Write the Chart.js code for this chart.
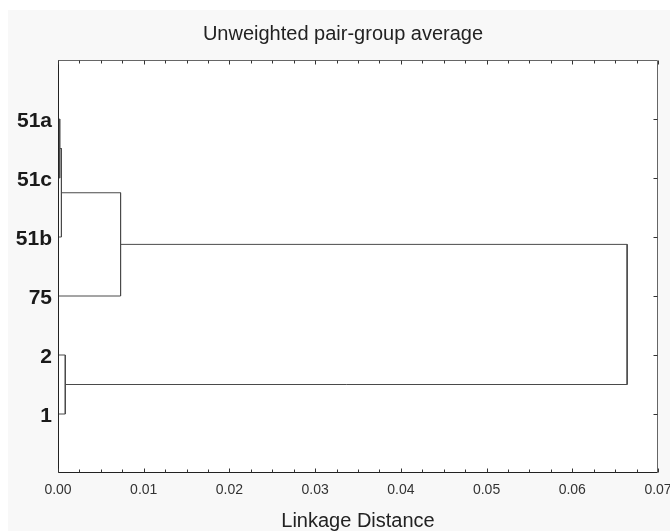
<!DOCTYPE html>
<html>
<head>
<meta charset="utf-8">
<script src="https://cdn.jsdelivr.net/npm/chart.js@4.4.0/dist/chart.umd.min.js"></script>
<style>
  html, body { margin: 0; padding: 0; background: #fff; }
  #wrap { width: 670px; height: 531px; }
</style>
</head>
<body>
<div id="wrap"><canvas id="chart" width="670" height="531"></canvas></div>
<script>
// leaves, bottom to top (y positions 1..6)
const leafLabels = ['1', '2', '75', '51b', '51c', '51a'];
// merges: node ids 0..5 are leaves, each merge creates the next id (6, 7, ...)
const mergeLeft = [5, 6, 1, 7, 9];
const mergeRight = [4, 3, 0, 2, 8];
const mergeHeight = [0.0002, 0.0004, 0.00085, 0.0073, 0.0664];
const xTickValues = [0, 0.01, 0.02, 0.03, 0.04, 0.05, 0.06, 0.07];

const lineColor = '#4a4a4a';
const fontFamily = 'Liberation Sans, Arial, sans-serif';

// build the U shaped links from the merge table
const nodeX = leafLabels.map(() => 0);
const nodeY = leafLabels.map((_, i) => i + 1);
const datasets = [];
mergeHeight.forEach((h, i) => {
    const a = mergeLeft[i];
    const b = mergeRight[i];
    datasets.push({
        data: [
            { x: nodeX[a], y: nodeY[a] },
            { x: h, y: nodeY[a] },
            { x: h, y: nodeY[b] },
            { x: nodeX[b], y: nodeY[b] }
        ],
        showLine: true,
        borderColor: lineColor,
        borderWidth: 1,
        pointRadius: 0,
        tension: 0,
        clip: false
    });
    nodeX.push(h);
    nodeY.push((nodeY[a] + nodeY[b]) / 2);
});

// background panel, frame and inward tick marks
const framePlugin = {
    id: 'frame',
    beforeDraw(chart) {
        const { ctx, chartArea: a } = chart;
        ctx.save();
        ctx.fillStyle = '#ffffff';
        ctx.fillRect(0, 0, chart.width, chart.height);
        ctx.fillStyle = '#f8f8f8';
        ctx.fillRect(8, 10, chart.width - 8, chart.height - 10);
        ctx.fillStyle = '#ffffff';
        ctx.fillRect(a.left, a.top, a.right - a.left, a.bottom - a.top);
        ctx.restore();
    },
    afterDraw(chart) {
        const { ctx, chartArea: a, scales } = chart;
        const L = Math.round(a.left) + 0.5, R = Math.round(a.right) - 0.5;
        const T = Math.round(a.top) + 0.5, B = Math.round(a.bottom) - 0.5;
        ctx.save();
        ctx.lineWidth = 1;
        ctx.strokeStyle = '#666';
        ctx.beginPath();
        ctx.moveTo(L, T); ctx.lineTo(R, T); ctx.lineTo(R, B);
        ctx.stroke();
        ctx.strokeStyle = '#222';
        ctx.beginPath();
        ctx.moveTo(L, T); ctx.lineTo(L, B); ctx.lineTo(R, B);
        ctx.stroke();

        // minor ticks every 0.0025 on top and bottom
        ctx.strokeStyle = '#333';
        ctx.beginPath();
        for (let i = 0; i <= 28; i++) {
            const px = Math.round(scales.x.getPixelForValue(i * 0.0025)) + 0.5;
            const len = i % 4 === 0 ? 4 : 3;
            ctx.moveTo(px, B); ctx.lineTo(px, B - len);
            ctx.moveTo(px, T); ctx.lineTo(px, T + len);
        }
        // right side ticks at leaves
        leafLabels.forEach((_, i) => {
            const py = Math.round(scales.y.getPixelForValue(i + 1)) + 0.5;
            ctx.moveTo(R, py); ctx.lineTo(R - 4, py);
        });
        ctx.stroke();
        ctx.restore();
    }
};

new Chart(document.getElementById('chart'), {
    type: 'scatter',
    data: { datasets },
    options: {
        responsive: false,
        animation: false,
        layout: { padding: { left: 16, right: 0, top: 0, bottom: 0 } },
        plugins: {
            legend: { display: false },
            tooltip: { enabled: false },
            title: {
                display: true,
                text: 'Unweighted pair-group average',
                color: '#222',
                font: { family: fontFamily, size: 20, weight: 'normal', lineHeight: 1.2 },
                padding: { top: 22, bottom: 14 }
            }
        },
        scales: {
            x: {
                type: 'linear',
                min: 0,
                max: 0.07,
                afterBuildTicks: (s) => { s.ticks = xTickValues.map(v => ({ value: v })); },
                afterFit: (s) => { s.height = 58; s.paddingLeft = 0; s.paddingRight = 0; },
                ticks: {
                    callback: (v) => Number(v).toFixed(2),
                    color: '#333',
                    font: { family: fontFamily, size: 14 },
                    padding: 9,
                    maxRotation: 0
                },
                grid: { display: false, drawTicks: false },
                border: { display: false },
                title: {
                    display: true,
                    text: 'Linkage Distance',
                    color: '#222',
                    font: { family: fontFamily, size: 20, lineHeight: 1 },
                    padding: { top: 0, bottom: 0 }
                }
            },
            y: {
                type: 'linear',
                min: 0,
                max: 7,
                afterBuildTicks: (s) => { s.ticks = leafLabels.map((_, i) => ({ value: i + 1 })); },
                afterFit: (s) => { s.width = 42; s.paddingTop = 0; s.paddingBottom = 0; },
                ticks: {
                    callback: (v) => leafLabels[v - 1] ?? '',
                    color: '#1a1a1a',
                    font: { family: fontFamily, size: 21, weight: 'bold' },
                    padding: 6,
                    labelOffset: 2
                },
                grid: { display: false, drawTicks: false },
                border: { display: false }
            },
            y2: {
                type: 'linear',
                position: 'right',
                min: 0,
                max: 7,
                afterFit: (s) => { s.width = 12; },
                ticks: { display: false },
                grid: { display: false, drawTicks: false },
                border: { display: false }
            }
        }
    },
    plugins: [framePlugin]
});
</script>
</body>
</html>
